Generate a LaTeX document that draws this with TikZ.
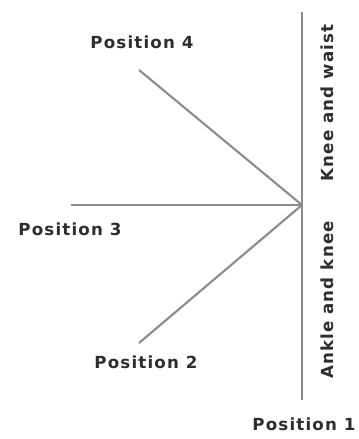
\documentclass[tikz,border=0pt]{standalone}
\usepackage{fontspec}
\setmainfont{DejaVu Sans}[LetterSpace=7]
\usepackage{xcolor}
\definecolor{limb}{HTML}{8C8C8C}
\definecolor{labeltext}{HTML}{2E2E2E}

\begin{document}
\begin{tikzpicture}[x=0.75pt,y=-0.75pt,every node/.style={font=\bfseries\fontsize{12.5}{14}\selectfont,text=labeltext,inner sep=1pt},
  limbline/.style={line width=1.6pt,draw=limb}]
 \useasboundingbox (0,0) rectangle (359,439);
 \coordinate (hip) at (302,205);
 \coordinate (top) at (302,12);
 \coordinate (bot) at (302,400);
 \coordinate (p4end) at (139,70);
 \coordinate (p3end) at (71,205);
 \coordinate (p2end) at (139,343);
 \draw[limbline] (top)--(bot);
 \foreach \e in {p4end,p3end,p2end}{
  \draw[limbline] (hip)--(\e);
 }
 \node (pos4) at (142,42) {Position 4};
 \node (pos3) at (70,229) {Position 3};
 \node (pos2) at (146,362) {Position 2};
 \node (pos1) at (304,424) {Position 1};
 \node[rotate=90] (upper) at (327,103) {Knee and waist};
 \node[rotate=90] (lower) at (327,300) {Ankle and knee};
\end{tikzpicture}
\end{document}
